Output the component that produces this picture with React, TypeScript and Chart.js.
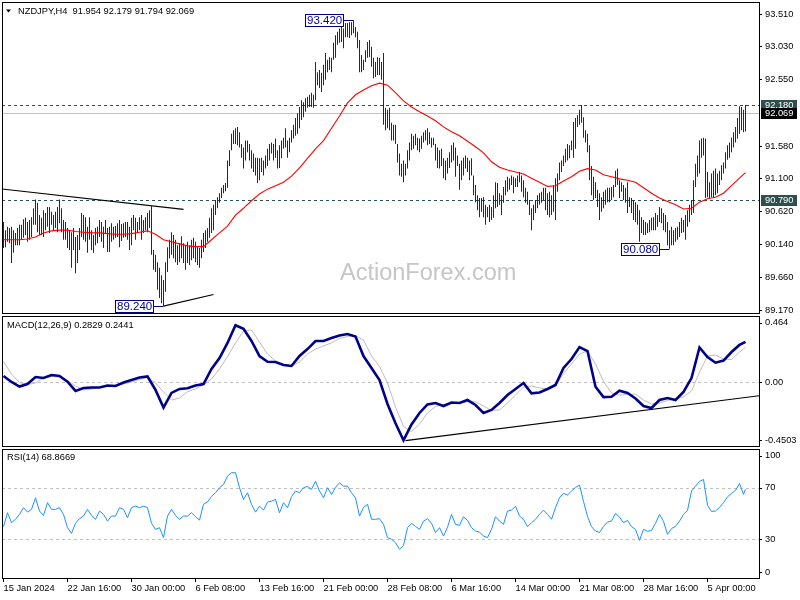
import React, { useEffect, useRef } from "react";
import { Chart, registerables } from "chart.js";

Chart.register(...registerables);

const FONT = '"Liberation Sans", Arial, sans-serif';

const symbolTitle = "NZDJPY,H4  91.954 92.179 91.794 92.069";
const macdTitle = "MACD(12,26,9) 0.2829 0.2441";
const rsiTitle = "RSI(14) 68.8669";
const watermark = "ActionForex.com";

const timeLabels = ["15 Jan 2024", "22 Jan 16:00", "30 Jan 00:00", "6 Feb 08:00", "13 Feb 16:00", "21 Feb 00:00", "28 Feb 08:00", "6 Mar 16:00", "14 Mar 00:00", "21 Mar 08:00", "28 Mar 16:00", "5 Apr 00:00"];
const timeLabelBars = [0, 32, 64, 96, 128, 160, 192, 224, 256, 288, 320, 352];

const priceTicks = [93.51, 93.03, 92.55, 91.58, 91.1, 90.62, 90.14, 89.66, 89.17];
const macdTicks = [0.464, 0, -0.4503];
const macdTickLabels = ["0.464", "0.00", "-0.4503"];
const rsiTicks = [100, 70, 30, 0];
const rsiLevels = [70, 30];

const dashedLevels = [92.18, 90.79];
const bidPrice = 92.069;

const swingBars = [175, 333, 80];
const swingPrices = [93.42, 90.08, 89.24];

const trendUpper = [{ x: -1, y: 90.953 }, { x: 90, y: 90.655 }];
const trendLower = [{ x: 80, y: 89.24 }, { x: 105, y: 89.41 }];
const trendMacd = [{ x: 201, y: -0.413 }, { x: 378, y: -0.0965 }];

const highs = [
  90.47,90.35,90.40,90.38,90.40,90.35,90.31,90.38,90.43,90.43,
  90.51,90.53,90.47,90.50,90.54,90.67,90.80,90.75,90.57,90.53,
  90.64,90.60,90.69,90.69,90.62,90.57,90.62,90.69,90.80,90.67,
  90.50,90.47,90.38,90.35,90.32,90.38,90.25,90.28,90.38,90.60,
  90.57,90.54,90.40,90.54,90.35,90.28,90.38,90.40,90.50,90.47,
  90.40,90.50,90.38,90.40,90.45,90.40,90.41,90.45,90.50,90.44,
  90.45,90.47,90.47,90.40,90.53,90.57,90.53,90.47,90.54,90.57,
  90.50,90.54,90.60,90.64,90.70,90.06,89.99,89.88,89.80,89.69,
  89.62,89.88,90.10,90.21,90.32,90.28,90.21,90.13,90.16,90.26,
  90.16,90.12,90.18,90.13,90.21,90.24,90.18,90.10,90.09,90.21,
  90.31,90.35,90.38,90.53,90.67,90.72,90.79,90.83,90.89,90.97,
  91.01,91.04,91.37,91.52,91.76,91.81,91.84,91.86,91.78,91.61,
  91.56,91.66,91.66,91.61,91.52,91.47,91.41,91.41,91.40,91.41,
  91.37,91.44,91.54,91.61,91.63,91.61,91.69,91.52,91.59,91.66,
  91.70,91.84,91.66,91.70,91.81,91.89,91.99,92.06,92.15,92.25,
  92.22,92.28,92.30,92.33,92.36,92.33,92.81,92.66,92.69,92.65,
  92.77,92.94,92.84,92.88,92.87,93.09,93.20,93.25,93.30,93.35,
  93.30,93.38,93.38,93.39,93.39,93.42,93.32,93.25,93.13,92.91,
  92.84,92.98,93.10,93.13,93.03,92.87,92.81,92.88,92.87,92.81,
  92.94,92.14,92.11,92.14,91.92,91.89,91.89,91.61,91.47,91.32,
  91.37,91.32,91.52,91.63,91.76,91.73,91.76,91.70,91.69,91.73,
  91.78,91.81,91.84,91.78,91.70,91.70,91.61,91.56,91.52,91.54,
  91.40,91.37,91.41,91.49,91.59,91.63,91.56,91.44,91.32,91.37,
  91.41,91.44,91.41,91.37,91.40,91.15,91.01,90.86,90.82,90.82,
  90.83,90.72,90.69,90.72,90.69,90.86,91.05,91.04,90.89,90.86,
  90.98,91.08,91.13,91.11,91.15,91.13,91.11,91.15,91.20,91.15,
  91.08,90.97,90.91,90.79,90.67,90.72,90.79,90.86,90.89,90.91,
  90.97,90.97,90.89,90.91,90.86,91.01,91.11,91.18,91.34,91.37,
  91.44,91.54,91.61,91.59,91.66,91.93,91.99,92.03,92.11,92.18,
  92.00,91.81,91.76,91.59,91.29,91.13,91.05,90.94,90.89,90.83,
  90.91,90.94,90.97,90.97,90.98,91.01,91.22,91.25,91.08,91.05,
  91.01,90.97,91.05,90.83,90.82,90.79,90.76,90.72,90.64,90.54,
  90.50,90.47,90.45,90.50,90.53,90.54,90.60,90.57,90.69,90.67,
  90.60,90.57,90.47,90.35,90.40,90.35,90.38,90.40,90.47,90.53,
  90.50,90.57,90.64,90.72,90.79,91.08,91.32,91.44,91.66,91.69,
  91.70,91.69,91.20,91.05,91.18,91.22,91.25,91.18,91.22,91.30,
  91.34,91.49,91.59,91.63,91.70,91.78,91.86,91.99,92.16,92.15,
  92.11,92.179
];

const lows = [
  90.09,90.10,90.18,90.16,89.87,90.02,90.13,90.13,90.13,90.21,
  90.24,90.28,90.18,90.21,90.25,90.43,90.43,90.32,90.28,90.28,
  90.25,90.35,90.40,90.31,90.43,90.35,90.38,90.32,90.45,90.32,
  90.21,90.21,90.09,90.06,89.80,90.06,89.72,89.87,90.06,90.25,
  90.21,90.18,90.02,90.21,90.06,90.02,90.13,90.16,90.25,90.18,
  90.09,90.31,90.03,90.03,90.18,90.21,90.24,90.25,90.10,90.19,
  90.24,90.25,90.21,90.06,90.13,90.35,90.21,90.31,90.35,90.21,
  90.31,90.35,90.32,90.38,89.99,89.77,89.74,89.48,89.36,89.28,
  89.24,89.45,89.74,89.94,89.99,89.94,89.88,89.84,89.88,89.94,
  89.87,89.77,89.87,89.84,89.91,89.94,89.88,89.84,89.80,89.94,
  90.03,90.09,90.18,90.24,90.31,90.35,90.57,90.67,90.75,90.82,
  90.89,90.92,90.97,91.29,91.52,91.61,91.61,91.59,91.56,91.41,
  91.25,91.37,91.49,91.37,91.25,91.20,91.15,91.04,91.08,91.20,
  91.15,91.25,91.29,91.37,91.47,91.37,91.41,91.25,91.26,91.40,
  91.54,91.56,91.41,91.49,91.63,91.69,91.73,91.76,91.84,91.96,
  92.00,92.08,92.14,92.15,92.15,92.14,92.25,92.47,92.43,92.37,
  92.47,92.55,92.66,92.69,92.66,92.84,92.87,93.06,93.09,93.10,
  93.01,93.17,93.17,93.16,93.20,93.23,93.17,93.01,92.66,92.66,
  92.69,92.81,92.87,92.88,92.74,92.57,92.59,92.62,92.62,92.55,
  91.89,91.81,91.84,91.81,91.66,91.66,91.61,91.34,91.15,91.13,
  91.05,91.15,91.25,91.37,91.52,91.54,91.59,91.52,91.49,91.54,
  91.63,91.66,91.59,91.61,91.56,91.59,91.37,91.26,91.25,91.29,
  91.11,91.08,91.18,91.26,91.34,91.37,91.13,91.29,90.94,91.08,
  91.15,91.25,91.20,91.08,91.15,90.86,90.76,90.64,90.54,90.62,
  90.54,90.43,90.54,90.47,90.50,90.53,90.67,90.69,90.72,90.57,
  90.75,90.86,90.91,90.94,91.01,90.89,90.98,90.98,91.05,90.91,
  90.83,90.75,90.72,90.57,90.35,90.50,90.60,90.67,90.72,90.75,
  90.79,90.64,90.57,90.54,90.57,90.62,90.50,90.91,91.08,91.20,
  91.29,91.34,91.37,91.40,91.52,91.41,91.54,91.86,91.89,91.92,
  91.70,91.63,91.49,91.08,90.86,90.79,90.82,90.69,90.50,90.62,
  90.67,90.72,90.76,90.76,90.79,90.83,90.98,91.01,90.82,90.91,
  90.79,90.75,90.60,90.69,90.60,90.50,90.47,90.43,90.18,90.31,
  90.28,90.28,90.31,90.32,90.35,90.35,90.35,90.40,90.47,90.45,
  90.35,90.32,90.13,90.08,90.13,90.13,90.18,90.21,90.25,90.31,
  90.32,90.21,90.40,90.47,90.57,90.60,90.98,91.13,91.18,91.41,
  91.44,90.82,90.83,90.82,90.83,90.82,90.86,90.89,91.01,91.08,
  91.18,91.25,91.38,91.41,91.49,91.56,91.63,91.69,91.76,91.81,
  91.78,91.794
];

// moving average, sampled every 4th bar (last point = last bar)
const movingAvg = [
  90.21,90.21,90.21,90.22,90.25,90.31,90.34,90.35,90.35,90.33,
  90.32,90.31,90.31,90.30,90.29,90.29,90.30,90.32,90.34,90.29,
  90.21,90.18,90.15,90.12,90.11,90.11,90.21,90.31,90.41,90.57,
  90.67,90.78,90.88,90.95,91.00,91.05,91.14,91.26,91.40,91.54,
  91.66,91.84,92.02,92.21,92.33,92.40,92.46,92.50,92.47,92.36,
  92.24,92.15,92.08,92.02,91.95,91.86,91.79,91.73,91.65,91.57,
  91.48,91.35,91.27,91.23,91.20,91.17,91.11,91.05,90.99,91.00,
  91.07,91.13,91.21,91.25,91.23,91.16,91.13,91.10,91.08,91.05,
  90.97,90.89,90.82,90.77,90.72,90.66,90.67,90.76,90.81,90.83,
  90.89,91.00,91.11,91.19
];

// MACD main and signal, sampled every 4th bar
const macdMain = [
  0.042,0.000,-0.032,-0.014,0.035,0.028,0.049,0.042,0.002,-0.063,
  -0.042,-0.039,-0.039,-0.025,-0.028,-0.004,0.014,0.032,0.039,-0.056,
  -0.180,-0.077,-0.049,-0.044,-0.025,-0.014,0.092,0.169,0.275,0.400,
  0.375,0.289,0.183,0.143,0.141,0.120,0.113,0.183,0.232,0.289,
  0.289,0.310,0.327,0.338,0.320,0.183,0.099,0.014,-0.155,-0.291,
  -0.410,-0.299,-0.218,-0.158,-0.148,-0.169,-0.144,-0.148,-0.127,-0.162,
  -0.218,-0.197,-0.148,-0.092,-0.049,-0.007,-0.080,-0.074,-0.049,-0.021,
  0.099,0.162,0.246,0.218,-0.033,-0.106,-0.104,-0.061,-0.077,-0.116,
  -0.169,-0.183,-0.127,-0.113,-0.127,-0.070,0.028,0.243,0.176,0.136,
  0.151,0.211,0.261,0.2829
];
const macdSignal = [
  0.143,0.056,-0.004,-0.018,-0.007,0.028,0.039,0.035,0.011,-0.028,
  -0.056,-0.051,-0.039,-0.032,-0.025,-0.014,0.000,0.018,0.032,-0.007,
  -0.070,-0.127,-0.113,-0.068,-0.049,-0.021,0.021,0.092,0.178,0.275,
  0.359,0.366,0.282,0.197,0.148,0.123,0.113,0.141,0.197,0.232,
  0.254,0.275,0.306,0.320,0.327,0.296,0.183,0.110,-0.007,-0.176,
  -0.313,-0.349,-0.296,-0.218,-0.173,-0.158,-0.151,-0.148,-0.139,-0.139,
  -0.169,-0.201,-0.197,-0.148,-0.092,-0.035,-0.028,-0.042,-0.049,-0.028,
  0.060,0.127,0.197,0.218,0.127,0.004,-0.077,-0.092,-0.088,-0.085,
  -0.127,-0.155,-0.148,-0.130,-0.120,-0.104,-0.063,0.070,0.183,0.190,
  0.162,0.158,0.211,0.2441
];

// RSI(14), sampled every 2nd bar
const rsiValues = [
  39.8,50.6,42.9,45.5,49.3,54.5,51.1,53.2,62.2,51.9,
  48.5,58.4,53.2,53.2,54.5,49.3,39.0,34.6,42.4,46.0,
  48.0,53.2,48.5,45.5,51.9,49.3,44.1,48.0,48.0,54.5,
  53.2,46.8,54.5,55.7,54.5,55.7,54.5,42.4,37.7,39.0,
  31.3,48.0,53.2,48.5,45.5,48.0,48.0,50.6,47.5,44.9,
  57.1,59.0,63.2,66.1,70.0,72.5,79.0,81.6,81.6,70.0,
  60.9,66.1,57.1,51.1,55.7,52.6,58.8,59.6,60.9,50.6,
  58.4,54.5,63.0,67.4,66.1,70.0,71.0,68.7,75.1,67.4,
  62.2,70.0,64.8,70.2,73.8,71.2,71.2,66.1,62.2,48.0,
  54.7,57.1,45.5,45.5,46.0,41.6,31.3,30.0,27.4,22.2,
  25.3,39.0,42.4,40.0,37.7,44.1,46.0,42.4,35.2,39.0,
  32.5,39.3,49.3,41.6,40.8,47.5,44.7,39.0,36.4,35.6,
  32.5,31.3,37.7,47.5,44.1,41.6,51.9,52.6,55.7,48.0,
  45.5,39.8,42.9,45.5,49.3,52.6,49.3,45.5,54.5,62.2,
  65.6,64.4,67.4,70.2,72.0,59.4,47.8,39.8,36.4,35.3,
  40.0,43.4,44.1,50.1,47.2,42.9,44.7,39.8,37.7,29.2,
  37.7,36.2,36.9,42.4,49.3,43.9,33.8,38.3,40.0,44.1,
  49.3,52.4,67.4,71.2,74.8,76.4,56.3,51.6,51.9,54.7,
  58.4,62.9,65.6,67.9,73.3,64.8,68.8669
];

const LAST = highs.length - 1;
const X_MIN = -0.75;
const X_MAX = X_MIN + 757 / 2;

const BAR_COLOR = "#093252";

const sampled = (vals: number[], step: number) =>
  vals.map((v, k) => ({ x: Math.min(k * step, LAST), y: v }));

const clampY = (v: number, lo: number, hi: number) => Math.max(lo, Math.min(hi, v));

function xAxis(show: boolean): any {
  return {
    type: "linear",
    min: X_MIN,
    max: X_MAX,
    offset: false,
    display: show,
    grid: { display: true, drawOnChartArea: false, drawTicks: true, tickLength: 4, color: "#000", lineWidth: 1 },
    border: { display: false },
    ticks: {
      autoSkip: false,
      maxRotation: 0,
      minRotation: 0,
      align: "start",
      padding: 1,
      color: "#000",
      font: { family: FONT, size: 9.3 },
      callback: (v: any) => {
        const k = timeLabelBars.indexOf(Number(v));
        return k >= 0 ? timeLabels[k] : "";
      },
    },
    afterBuildTicks: (s: any) => {
      s.ticks = timeLabelBars.map((v) => ({ value: v }));
    },
    afterFit: (s: any) => {
      s.height = show ? 22 : 0;
      s.paddingLeft = 0;
      s.paddingRight = 0;
    },
  };
}

function hiddenY(min: number, max: number): any {
  return {
    type: "linear",
    position: "right",
    min,
    max,
    grid: { display: false },
    border: { display: false },
    ticks: { display: false },
    afterFit: (s: any) => {
      s.width = 41;
      s.paddingTop = 0;
      s.paddingBottom = 0;
    },
  };
}

function baseOptions(padTop: number, padBottom: number): any {
  return {
    animation: false,
    responsive: false,
    maintainAspectRatio: false,
    devicePixelRatio: 1,
    events: [],
    layout: { padding: { left: 2, top: padTop, right: 0, bottom: padBottom } },
    plugins: { legend: { display: false }, tooltip: { enabled: false }, title: { display: false } },
  };
}

function drawFrame(chart: any) {
  const { ctx, chartArea: a } = chart;
  ctx.save();
  ctx.strokeStyle = "#000";
  ctx.lineWidth = 1;
  const l = Math.round(a.left) + 0.5;
  const t = Math.round(a.top) + 0.5;
  const r = Math.round(a.right) + 0.5;
  const b = Math.round(a.bottom) + 0.5;
  ctx.strokeRect(l, t, r - l, b - t);
  ctx.restore();
}

function hLine(chart: any, value: number, color: string, dash: number[]) {
  const { ctx, chartArea: a, scales } = chart;
  const y = Math.round(scales.y.getPixelForValue(value)) + 0.5;
  ctx.save();
  ctx.strokeStyle = color;
  ctx.lineWidth = 1;
  ctx.setLineDash(dash);
  ctx.beginPath();
  ctx.moveTo(a.left, y);
  ctx.lineTo(a.right, y);
  ctx.stroke();
  ctx.restore();
}

function panelTitle(chart: any, text: string, y: number, x: number) {
  const { ctx } = chart;
  ctx.save();
  ctx.font = `9.3px ${FONT}`;
  ctx.fillStyle = "#000";
  ctx.textAlign = "left";
  ctx.textBaseline = "middle";
  ctx.fillText(text, x, y);
  ctx.restore();
}

function sideLabels(chart: any, values: number[], texts: string[]) {
  const { ctx, chartArea: a, scales } = chart;
  ctx.save();
  ctx.font = `9.3px ${FONT}`;
  ctx.fillStyle = "#000";
  ctx.strokeStyle = "#000";
  ctx.lineWidth = 1;
  ctx.textAlign = "left";
  ctx.textBaseline = "middle";
  values.forEach((v, k) => {
    const py = clampY(scales.y.getPixelForValue(v), a.top + 6.5, a.bottom - 6);
    const ty = Math.round(py) + 0.5;
    ctx.beginPath();
    ctx.moveTo(a.right, ty);
    ctx.lineTo(a.right + 3, ty);
    ctx.stroke();
    ctx.fillText(texts[k], a.right + 6, py);
  });
  ctx.restore();
}

const mainDecor = {
  id: "mainDecor",
  beforeDatasetsDraw(chart: any) {
    const { ctx } = chart;
    ctx.save();
    ctx.font = `23.5px ${FONT}`;
    ctx.fillStyle = "#c6c6c6";
    ctx.textAlign = "left";
    ctx.textBaseline = "alphabetic";
    ctx.fillText(watermark, 340, 280);
    ctx.restore();
    hLine(chart, bidPrice, "#c0c0c0", []);
    dashedLevels.forEach((lv) => hLine(chart, lv, "#2f4f4f", [3, 3]));
  },
  afterDatasetsDraw(chart: any) {
    const { ctx, scales } = chart;
    ctx.save();
    ctx.font = `11.5px ${FONT}`;
    ctx.textAlign = "left";
    ctx.textBaseline = "middle";
    swingBars.forEach((bar, k) => {
      const px = scales.x.getPixelForValue(bar);
      const py = Math.round(scales.y.getPixelForValue(swingPrices[k])) + 0.5;
      const txt = swingPrices[k].toFixed(3);
      const w = Math.round(ctx.measureText(txt).width) + 4;
      const right = Math.round(px) - 10;
      const left = right - w;
      ctx.fillStyle = "#fff";
      ctx.fillRect(left, py - 6.5, w, 12);
      ctx.strokeStyle = "#000080";
      ctx.lineWidth = 1;
      ctx.strokeRect(left + 0.5, py - 6, w - 1, 12);
      ctx.beginPath();
      ctx.moveTo(right, py);
      ctx.lineTo(px, py);
      ctx.stroke();
      ctx.fillStyle = "#0000a0";
      ctx.fillText(txt, left + 2, py + 0.5);
    });
    ctx.restore();
  },
  afterDraw(chart: any) {
    drawFrame(chart);
    const { ctx, chartArea: a, scales } = chart;
    const boxes: [number, string][] = [
      [dashedLevels[0], "#2f4f4f"],
      [bidPrice, "#000000"],
      [dashedLevels[1], "#2f4f4f"],
    ];
    ctx.save();
    ctx.font = `9.3px ${FONT}`;
    ctx.textAlign = "left";
    ctx.textBaseline = "middle";
    boxes.forEach(([v, c]) => {
      const py = scales.y.getPixelForValue(v);
      ctx.fillStyle = c;
      ctx.fillRect(a.right + 2, Math.round(py) - 5, 36, 11);
      ctx.fillStyle = "#fff";
      ctx.fillText(v.toFixed(3), a.right + 6, py + 0.5);
    });
    ctx.fillStyle = "#000";
    ctx.beginPath();
    ctx.moveTo(6, 9.5);
    ctx.lineTo(11, 9.5);
    ctx.lineTo(8.5, 12.5);
    ctx.closePath();
    ctx.fill();
    ctx.restore();
    panelTitle(chart, symbolTitle, 11, 18);
  },
};

const macdDecor = {
  id: "macdDecor",
  beforeDatasetsDraw(chart: any) {
    hLine(chart, 0, "#c0c0c0", [3, 3]);
  },
  afterDraw(chart: any) {
    drawFrame(chart);
    sideLabels(chart, macdTicks, macdTickLabels);
    panelTitle(chart, macdTitle, 10, 7);
  },
};

const rsiDecor = {
  id: "rsiDecor",
  beforeDatasetsDraw(chart: any) {
    rsiLevels.forEach((lv) => hLine(chart, lv, "#c0c0c0", [3, 3]));
  },
  afterDraw(chart: any) {
    drawFrame(chart);
    sideLabels(chart, rsiTicks, rsiTicks.map((v) => String(v)));
    panelTitle(chart, rsiTitle, 9, 7);
  },
};

function mainConfig(): any {
  return {
    type: "bar",
    data: {
      datasets: [
        { type: "line", data: trendUpper, borderColor: "#000", borderWidth: 1.2, pointRadius: 0, order: 0 },
        { type: "line", data: trendLower, borderColor: "#000", borderWidth: 1.2, pointRadius: 0, order: 0 },
        {
          type: "line",
          data: sampled(movingAvg, 4),
          borderColor: "#ff0000",
          borderWidth: 1.1,
          pointRadius: 0,
          tension: 0,
          order: 1,
        },
        {
          type: "bar",
          data: highs.map((h, i) => ({ x: i, y: [lows[i], h] })),
          backgroundColor: BAR_COLOR,
          borderWidth: 0,
          barThickness: 1,
          inflateAmount: 0,
          order: 3,
        },
      ],
    },
    options: {
      ...baseOptions(2, 2),
      scales: {
        x: xAxis(false),
        y: {
          type: "linear",
          position: "right",
          min: 89.139,
          max: 93.686,
          grid: { display: true, drawOnChartArea: false, drawTicks: true, tickLength: 3, color: "#000" },
          border: { display: false },
          ticks: {
            color: "#000",
            font: { family: FONT, size: 9.3 },
            padding: 3,
            autoSkip: false,
            callback: (v: any) => Number(v).toFixed(3),
          },
          afterBuildTicks: (s: any) => {
            s.ticks = priceTicks.map((v) => ({ value: v }));
          },
          afterFit: (s: any) => {
            s.width = 41;
            s.paddingTop = 0;
            s.paddingBottom = 0;
          },
        },
      },
    },
    plugins: [mainDecor],
  };
}

function macdConfig(): any {
  return {
    type: "line",
    data: {
      datasets: [
        { data: trendMacd, borderColor: "#000", borderWidth: 1.2, pointRadius: 0, order: 0 },
        {
          data: sampled(macdMain, 4),
          borderColor: "#00008b",
          borderWidth: 2.6,
          pointRadius: 0,
          tension: 0,
          order: 1,
        },
        {
          data: sampled(macdSignal, 4),
          borderColor: "#bdbdbd",
          borderWidth: 1,
          pointRadius: 0,
          tension: 0,
          order: 2,
        },
      ],
    },
    options: {
      ...baseOptions(1, 2),
      scales: { x: xAxis(false), y: hiddenY(-0.4507, 0.4648) },
    },
    plugins: [macdDecor],
  };
}

function rsiConfig(): any {
  return {
    type: "line",
    data: {
      datasets: [
        {
          data: sampled(rsiValues, 2),
          borderColor: "#1e90ff",
          borderWidth: 1,
          pointRadius: 0,
          tension: 0,
        },
      ],
    },
    options: {
      ...baseOptions(1, 0),
      scales: { x: xAxis(true), y: hiddenY(0, 100) },
    },
    plugins: [rsiDecor],
  };
}

export default function App() {
  const mainRef = useRef<HTMLCanvasElement>(null);
  const macdRef = useRef<HTMLCanvasElement>(null);
  const rsiRef = useRef<HTMLCanvasElement>(null);

  useEffect(() => {
    document.body.style.margin = "0";
    const charts: Chart[] = [];
    if (mainRef.current) charts.push(new Chart(mainRef.current, mainConfig()));
    if (macdRef.current) charts.push(new Chart(macdRef.current, macdConfig()));
    if (rsiRef.current) charts.push(new Chart(rsiRef.current, rsiConfig()));
    return () => charts.forEach((c) => c.destroy());
  }, []);

  return (
    <div style={{ position: "relative", width: 800, height: 600, background: "#fff", overflow: "hidden" }}>
      <canvas ref={mainRef} width={800} height={315} style={{ position: "absolute", left: 0, top: 0 }} />
      <canvas ref={macdRef} width={800} height={133} style={{ position: "absolute", left: 0, top: 315 }} />
      <canvas ref={rsiRef} width={800} height={152} style={{ position: "absolute", left: 0, top: 448 }} />
    </div>
  );
}
